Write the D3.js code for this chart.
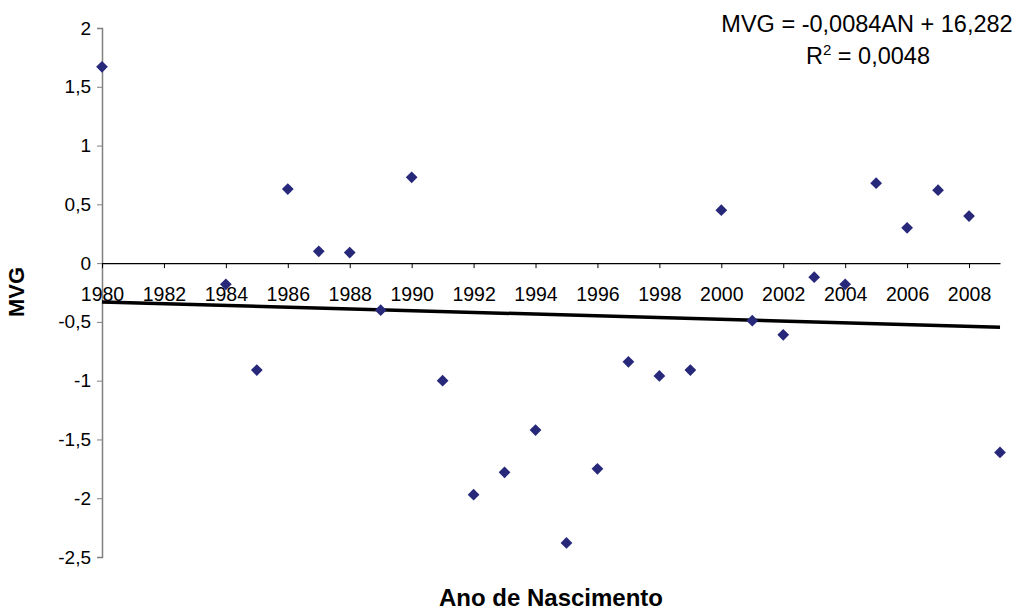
<!DOCTYPE html>
<html>
<head>
<meta charset="utf-8">
<script src="https://cdn.jsdelivr.net/npm/d3@7"></script>
<style>
  body { margin: 0; background: #fff; }
  svg text { font-family: "Liberation Sans", Arial, sans-serif; }
</style>
</head>
<body>
<div id="chart"></div>
<script>
const width = 1032,
    height = 610;

// data
const years = [1980, 1984, 1985, 1986, 1987, 1988, 1989, 1990, 1991, 1992, 1993, 1994, 1995,
    1996, 1997, 1998, 1999, 2000, 2001, 2002, 2003, 2004, 2005, 2006, 2007, 2008, 2009];
const mvg = [1.67, -0.18, -0.91, 0.63, 0.1, 0.09, -0.4, 0.73, -1.0, -1.97, -1.78, -1.42, -2.38,
    -1.75, -0.84, -0.96, -0.91, 0.45, -0.49, -0.61, -0.12, -0.18, 0.68, 0.3, 0.62, 0.4, -1.61];
const trendYears = [1980, 2009];
const trendValues = [-0.33, -0.545];
const xTicks = d3.range(1980, 2009, 2);
const yTicks = [2, 1.5, 1, 0.5, 0, -0.5, -1, -1.5, -2, -2.5];

const margin = { top: 28, right: 32, bottom: 53, left: 102 };

const svg = d3.select("#chart")
    .append("svg")
    .attr("width", width)
    .attr("height", height);

const x = d3.scaleLinear().domain([1980, 2009]).range([margin.left, width - margin.right]);
const y = d3.scaleLinear().domain([-2.5, 2]).range([height - margin.bottom, margin.top]);

const fmt = d => String(d).replace(".", ",");

// y axis (gray line, ticks to the left)
const yAxis = svg.append("g")
    .attr("transform", `translate(${x(1980)},0)`)
    .call(d3.axisLeft(y).tickValues(yTicks).tickFormat(fmt).tickSize(5).tickPadding(6));
yAxis.select(".domain").attr("stroke", "#808080").attr("stroke-width", 1.5);
yAxis.selectAll(".tick line").attr("stroke", "#808080");
yAxis.selectAll(".tick text").style("font-size", "19px").attr("fill", "#000");

// x axis drawn across the zero line
const xAxis = svg.append("g")
    .attr("transform", `translate(0,${y(0)})`)
    .call(d3.axisBottom(x).tickValues(xTicks).tickFormat(d3.format("d")).tickSize(5).tickSizeOuter(0).tickPadding(19));
xAxis.select(".domain").attr("stroke", "#000").attr("stroke-width", 1.2);
xAxis.selectAll(".tick line").attr("stroke", "#000");
xAxis.selectAll(".tick text").style("font-size", "19.5px").attr("fill", "#000");

// trend line
svg.append("line")
    .attr("x1", x(trendYears[0]))
    .attr("y1", y(trendValues[0]))
    .attr("x2", x(trendYears[1]))
    .attr("y2", y(trendValues[1]))
    .attr("stroke", "#000")
    .attr("stroke-width", 3.5);

// points
const points = years.map((d, i) => ({ year: d, value: mvg[i] }));
svg.selectAll(".pt")
    .data(points)
    .enter()
    .append("path")
    .attr("class", "pt")
    .attr("d", d3.symbol(d3.symbolDiamond2, 88))
    .attr("transform", d => `translate(${x(d.year)},${y(d.value)})`)
    .attr("fill", "#27287a");

// equation
const eq = svg.append("g").attr("text-anchor", "middle").style("font-size", "23.5px");
eq.append("text")
    .attr("x", 867)
    .attr("y", 32)
    .text("MVG = -0,0084AN + 16,282");
const r2 = eq.append("text")
    .attr("x", 868)
    .attr("y", 64);
r2.append("tspan").text("R");
r2.append("tspan").attr("dy", -9).style("font-size", "15px").text("2");
r2.append("tspan").attr("dy", 9).text(" = 0,0048");

// axis titles
svg.append("text")
    .attr("x", 551)
    .attr("y", 606)
    .attr("text-anchor", "middle")
    .style("font-size", "24px")
    .style("font-weight", "bold")
    .text("Ano de Nascimento");

svg.append("text")
    .attr("transform", "translate(24,292) rotate(-90)")
    .attr("text-anchor", "middle")
    .style("font-size", "22px")
    .style("font-weight", "bold")
    .text("MVG");
</script>
</body>
</html>
